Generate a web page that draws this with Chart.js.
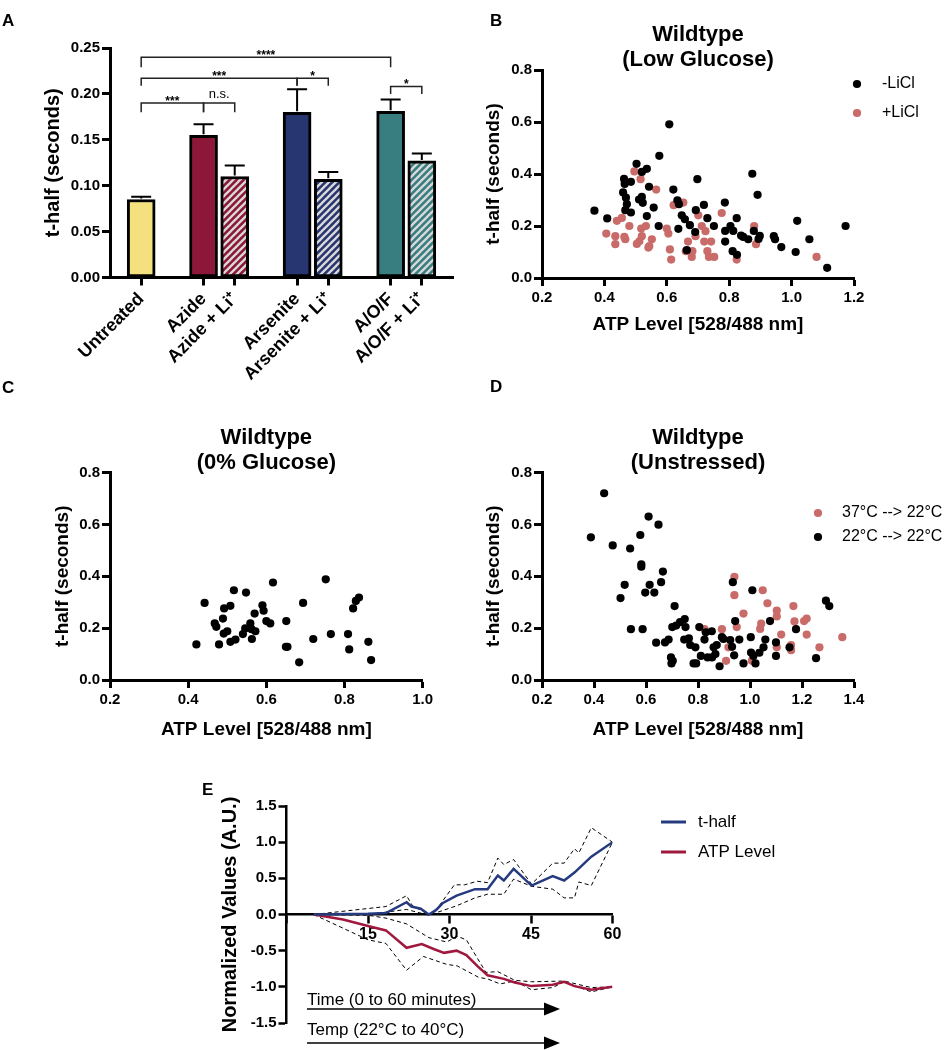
<!DOCTYPE html>
<html lang="en">
<head>
<meta charset="UTF-8">
<title>t-half and ATP level</title>
<script src="https://cdn.jsdelivr.net/npm/chart.js@4"></script>
<style>
body { margin: 0; background: #fff; font-family: Arial, "Liberation Sans", sans-serif; }
.fig { position: relative; width: 946px; height: 1050px; overflow: hidden; }
.fig canvas { position: absolute; }
.tag { position: absolute; font-weight: bold; font-size: 17px; line-height: 1; }
</style>
</head>
<body>
<div class="fig">
	<canvas id="chartA" width="470" height="400" style="left:0;top:0"></canvas>
	<canvas id="chartB" width="476" height="345" style="left:470px;top:0"></canvas>
	<canvas id="chartC" width="470" height="380" style="left:0;top:380px"></canvas>
	<canvas id="chartD" width="476" height="380" style="left:470px;top:380px"></canvas>
	<canvas id="chartE" width="746" height="280" style="left:200px;top:770px"></canvas>
	<div class="tag" style="left:2px;top:12px">A</div>
	<div class="tag" style="left:490px;top:12px">B</div>
	<div class="tag" style="left:2px;top:379px">C</div>
	<div class="tag" style="left:490px;top:378px">D</div>
	<div class="tag" style="left:202px;top:781px">E</div>
</div>
<script>
// --- panel A: t-half per treatment (mean + upper error) ---
const barLabels = ['Untreated', 'Azide', 'Azide + Li⁺', 'Arsenite', 'Arsenite + Li⁺', 'A/O/F', 'A/O/F + Li⁺'];
const barSlots = [0, 2, 3, 5, 6, 8, 9];
const barMeans = [0.085, 0.155, 0.110, 0.180, 0.107, 0.181, 0.127];
const barErrors = [0.003, 0.012, 0.012, 0.025, 0.008, 0.013, 0.008];
const sigBrackets = [
	{ from: 0, to: 8, y: 0.240, leg: 0.229, label: '****' },
	{ from: 0, to: 5, y: 0.217, leg: 0.209, label: '***' },
	{ from: 5, to: 6, y: 0.217, leg: 0.209, label: '*' },
	{ from: 0, to: 2, y: 0.190, leg: 0.180, label: '***' },
	{ from: 2, to: 3, y: 0.190, leg: 0.180, label: 'n.s.' },
	{ from: 8, to: 9, y: 0.208, leg: 0.200, label: '*' }
];

// --- panel B: wildtype, low glucose [ATP, t-half] ---
const bMinusLiCl = [[0.368,0.259],[0.409,0.229],[0.463,0.381],[0.465,0.362],[0.460,0.329],[0.469,0.309],[0.472,0.284],[0.467,0.261],[0.485,0.370],[0.485,0.252],[0.503,0.439],[0.520,0.408],[0.536,0.420],[0.511,0.302],[0.520,0.312],[0.523,0.289],[0.543,0.351],[0.536,0.238],[0.558,0.271],[0.574,0.200],[0.576,0.470],[0.608,0.591],[0.621,0.340],[0.634,0.299],[0.639,0.284],[0.637,0.189],[0.648,0.241],[0.658,0.226],[0.664,0.107],[0.674,0.203],[0.691,0.177],[0.693,0.261],[0.698,0.380],[0.719,0.281],[0.730,0.230],[0.751,0.200],[0.786,0.290],[0.787,0.140],[0.787,0.181],[0.804,0.200],[0.813,0.181],[0.811,0.103],[0.825,0.089],[0.824,0.230],[0.838,0.163],[0.845,0.158],[0.861,0.149],[0.874,0.401],[0.879,0.181],[0.891,0.320],[0.894,0.150],[0.898,0.162],[0.943,0.161],[0.947,0.149],[0.967,0.119],[1.013,0.100],[1.018,0.220],[1.057,0.149],[1.114,0.039],[1.173,0.200]];
const bPlusLiCl = [[0.406,0.171],[0.435,0.161],[0.435,0.130],[0.440,0.220],[0.456,0.231],[0.464,0.158],[0.467,0.149],[0.480,0.200],[0.496,0.410],[0.504,0.131],[0.512,0.141],[0.518,0.190],[0.520,0.161],[0.533,0.200],[0.516,0.380],[0.541,0.117],[0.544,0.123],[0.552,0.149],[0.566,0.340],[0.600,0.190],[0.605,0.171],[0.610,0.110],[0.614,0.071],[0.622,0.280],[0.653,0.290],[0.661,0.103],[0.668,0.140],[0.680,0.081],[0.682,0.103],[0.692,0.161],[0.701,0.241],[0.712,0.200],[0.720,0.140],[0.724,0.180],[0.730,0.103],[0.742,0.140],[0.735,0.081],[0.752,0.081],[0.776,0.250],[0.824,0.071],[0.880,0.200],[0.886,0.130],[1.080,0.081]];

// --- panel C: wildtype, 0% glucose ---
const cZeroGlucose = [[0.421,0.137],[0.442,0.297],[0.468,0.218],[0.472,0.205],[0.479,0.137],[0.489,0.237],[0.492,0.276],[0.491,0.179],[0.500,0.188],[0.508,0.286],[0.508,0.147],[0.517,0.346],[0.521,0.156],[0.540,0.177],[0.546,0.199],[0.548,0.337],[0.559,0.218],[0.563,0.158],[0.562,0.196],[0.572,0.188],[0.570,0.256],[0.590,0.288],[0.593,0.267],[0.600,0.227],[0.610,0.218],[0.617,0.376],[0.650,0.128],[0.654,0.128],[0.651,0.227],[0.684,0.068],[0.694,0.297],[0.720,0.158],[0.752,0.388],[0.765,0.177],[0.809,0.177],[0.812,0.118],[0.822,0.276],[0.829,0.305],[0.837,0.318],[0.861,0.147],[0.868,0.077]];

// --- panel D: wildtype, unstressed ---
const dRoomTemp = [[0.388,0.550],[0.439,0.720],[0.472,0.519],[0.502,0.316],[0.518,0.367],[0.539,0.507],[0.542,0.196],[0.578,0.559],[0.582,0.446],[0.582,0.437],[0.587,0.196],[0.597,0.337],[0.610,0.630],[0.614,0.367],[0.632,0.337],[0.639,0.144],[0.648,0.599],[0.658,0.377],[0.665,0.418],[0.673,0.145],[0.687,0.156],[0.696,0.087],[0.698,0.064],[0.703,0.074],[0.710,0.285],[0.701,0.204],[0.716,0.210],[0.731,0.223],[0.749,0.235],[0.752,0.204],[0.747,0.156],[0.765,0.161],[0.770,0.135],[0.783,0.064],[0.793,0.064],[0.790,0.126],[0.805,0.204],[0.811,0.093],[0.825,0.156],[0.830,0.184],[0.837,0.087],[0.854,0.087],[0.853,0.188],[0.860,0.126],[0.867,0.100],[0.872,0.135],[0.883,0.053],[0.892,0.165],[0.898,0.158],[0.924,0.154],[0.931,0.128],[0.934,0.377],[0.939,0.095],[0.943,0.227],[0.959,0.156],[0.975,0.064],[1.003,0.165],[1.004,0.106],[1.009,0.346],[1.013,0.093],[1.021,0.064],[1.036,0.105],[1.052,0.126],[1.059,0.156],[1.077,0.227],[1.100,0.145],[1.100,0.093],[1.152,0.126],[1.177,0.196],[1.254,0.084],[1.292,0.306],[1.305,0.285]];
const dHeatShock = [[0.825,0.196],[0.892,0.196],[0.908,0.074],[0.917,0.126],[0.940,0.398],[0.940,0.327],[0.949,0.204],[0.975,0.256],[1.007,0.074],[1.039,0.197],[1.043,0.217],[1.049,0.346],[1.067,0.296],[1.103,0.268],[1.103,0.245],[1.120,0.175],[1.103,0.126],[1.158,0.135],[1.158,0.115],[1.167,0.285],[1.171,0.226],[1.208,0.227],[1.218,0.237],[1.218,0.175],[1.267,0.126],[1.355,0.165]];

// --- panel E: normalised values over time [minutes, value] ---
const eThalf = [[5,0],[15,0.01],[18.3,0.02],[22.1,0.17],[23,0.11],[24.7,0.08],[26.2,0],[27.5,0.06],[28.8,0.16],[31.3,0.26],[34.7,0.35],[37,0.35],[38.9,0.54],[40,0.47],[41.8,0.63],[45.1,0.40],[49,0.53],[51.1,0.47],[53,0.58],[56.1,0.80],[60,1.0]];
const eThalfHi = [[5,0],[18.3,0.11],[22.1,0.26],[23.2,0.12],[26.2,0],[27.8,0.09],[30.9,0.41],[32.8,0.41],[35.1,0.46],[37,0.44],[38.9,0.78],[40,0.69],[41.8,0.76],[45.1,0.42],[49,0.71],[51.1,0.71],[53,0.91],[53.8,0.85],[56.1,1.20],[60,1.0]];
const eThalfLo = [[5,0],[15,0],[22.1,0.07],[26.2,-0.01],[31.3,0.12],[34.7,0.23],[37,0.28],[40,0.28],[41.8,0.49],[45.1,0.39],[49,0.35],[51.1,0.23],[53,0.23],[53.8,0.45],[56.1,0.40],[60,1.0]];
const eAtp = [[5,0],[10.4,-0.07],[15,-0.16],[18.3,-0.22],[22.1,-0.46],[24.9,-0.41],[27.2,-0.48],[29,-0.53],[31.3,-0.50],[33.1,-0.56],[35.1,-0.71],[37,-0.84],[40,-0.89],[42,-0.94],[45.1,-0.99],[49,-0.97],[51.1,-0.93],[53,-0.99],[56.1,-1.04],[60,-1.0]];
const eAtpHi = [[5,0],[15,-0.01],[18.3,-0.05],[22.1,-0.13],[26.2,-0.32],[29.5,-0.38],[31.4,-0.30],[33.1,-0.35],[36.7,-0.80],[38.9,-0.79],[42,-0.91],[45.1,-0.93],[51.1,-0.92],[56.1,-1.01],[60,-1.0]];
const eAtpLo = [[5,0],[15,-0.35],[18.3,-0.40],[22.1,-0.77],[25.2,-0.58],[29.5,-0.69],[31.4,-0.71],[35.4,-0.87],[37,-0.89],[39.3,-0.96],[42,-0.92],[45.1,-1.04],[49,-1.01],[51.1,-0.93],[56.1,-1.07],[60,-1.0]];

const FONT = 'Arial, "Liberation Sans", Helvetica, sans-serif';
const YELLOW = '#f4e07e', CRIMSON = '#8c1738', NAVY = '#273671', TEAL = '#387d80';
const PINK = '#c96b69', LINE_BLUE = '#263a7f', LINE_RED = '#a1183f';

Chart.defaults.font.family = FONT;
Chart.defaults.color = '#000';
Chart.defaults.animation = false;
Chart.defaults.plugins.legend.display = false;
Chart.defaults.plugins.tooltip.enabled = false;

const GRID = { drawOnChartArea: false, tickLength: 8, tickWidth: 3, tickColor: '#000' };
const BORDER = { color: '#000', width: 3 };
const toPoints = a => a.map(([x, y]) => ({ x, y }));

function hatch(color) {
	const c = document.createElement('canvas');
	c.width = 7; c.height = 7;
	const g = c.getContext('2d');
	g.fillStyle = color; g.fillRect(0, 0, 7, 7);
	g.strokeStyle = '#d9d9d9'; g.lineWidth = 2.3;
	g.beginPath();
	g.moveTo(-1, 8); g.lineTo(8, -1);
	g.moveTo(-1, 1); g.lineTo(1, -1);
	g.moveTo(6, 8); g.lineTo(8, 6);
	g.stroke();
	return g.createPattern(c, 'repeat');
}

// error bars + significance brackets for panel A
const sigPlugin = {
	id: 'sig',
	afterDatasetsDraw(chart) {
		const { ctx, scales: { x, y } } = chart;
		ctx.save();
		ctx.strokeStyle = '#000';
		ctx.lineWidth = 2;
		barSlots.forEach((s, i) => {
			const px = x.getPixelForValue(s);
			const top = y.getPixelForValue(barMeans[i]) - 1;
			const end = y.getPixelForValue(barMeans[i] + barErrors[i]);
			ctx.beginPath();
			ctx.moveTo(px, top); ctx.lineTo(px, end);
			ctx.moveTo(px - 10, end); ctx.lineTo(px + 10, end);
			ctx.stroke();
		});
		ctx.lineWidth = 1.5;
		ctx.strokeStyle = '#222';
		ctx.fillStyle = '#000';
		ctx.textAlign = 'center';
		ctx.textBaseline = 'alphabetic';
		sigBrackets.forEach(b => {
			const x1 = x.getPixelForValue(b.from), x2 = x.getPixelForValue(b.to);
			const yl = y.getPixelForValue(b.y), yb = y.getPixelForValue(b.leg);
			ctx.beginPath();
			ctx.moveTo(x1, yb); ctx.lineTo(x1, yl); ctx.lineTo(x2, yl); ctx.lineTo(x2, yb);
			ctx.stroke();
			if (b.label === 'n.s.') {
				ctx.font = '13px ' + FONT;
				ctx.fillText(b.label, (x1 + x2) / 2, yl - 5);
			} else {
				ctx.font = 'bold 12px ' + FONT;
				ctx.fillText(b.label, (x1 + x2) / 2, yl + 1.5);
			}
		});
		ctx.restore();
	}
};

// two-line heading above a scatter panel
const headingPlugin = {
	id: 'heading',
	afterDraw(chart, args, opts) {
		if (!opts || !opts.lines) return;
		const { ctx, chartArea } = chart;
		ctx.save();
		ctx.font = 'bold 22px ' + FONT;
		ctx.fillStyle = '#000';
		ctx.textAlign = 'center';
		ctx.textBaseline = 'middle';
		const cx = (chartArea.left + chartArea.right) / 2;
		opts.lines.forEach((t, i) => ctx.fillText(t, cx, chartArea.top - 35 + i * 25));
		ctx.restore();
	}
};

// dot legend built from the datasets
const dotLegendPlugin = {
	id: 'dotLegend',
	afterDraw(chart, args, opts) {
		if (!opts || !opts.order) return;
		const { ctx } = chart;
		ctx.save();
		ctx.font = '16px ' + FONT;
		ctx.textBaseline = 'middle';
		opts.order.forEach((di, i) => {
			const ds = chart.data.datasets[di];
			const y = opts.y + i * opts.step;
			ctx.fillStyle = ds.pointBackgroundColor;
			ctx.beginPath(); ctx.arc(opts.x, y, 4.1, 0, Math.PI * 2); ctx.fill();
			ctx.fillStyle = '#000';
			ctx.fillText(ds.label, opts.x + opts.gap, y);
		});
		ctx.restore();
	}
};

new Chart(document.getElementById('chartA'), {
	type: 'bar',
	data: {
		datasets: [{
			data: barSlots.map((s, i) => ({ x: s, y: barMeans[i] })),
			backgroundColor: [YELLOW, CRIMSON, hatch(CRIMSON), NAVY, hatch(NAVY), TEAL, hatch(TEAL)],
			borderColor: '#000',
			borderWidth: 3,
			borderSkipped: false,
			barThickness: 28
		}]
	},
	options: {
		responsive: false,
		layout: { padding: { top: 48, right: 17, bottom: 0, left: 0 } },
		scales: {
			x: {
				type: 'linear', min: -1, max: 10, offset: false,
				afterBuildTicks: s => { s.ticks = barSlots.map(v => ({ value: v })); },
				ticks: { autoSkip: false, minRotation: 45, maxRotation: 45, padding: 3, font: { size: 18, weight: 'bold' }, callback: v => barLabels[barSlots.indexOf(v)] },
				grid: { ...GRID, offset: false },
				border: BORDER,
				afterFit: s => { s.height = 122.5; s.paddingLeft = 0; s.paddingRight = 0; }
			},
			y: {
				min: 0, max: 0.25,
				ticks: { stepSize: 0.05, padding: 2, font: { size: 15, weight: 'bold' }, callback: v => v.toFixed(2) },
				grid: GRID,
				border: BORDER,
				title: { display: true, text: 't-half (seconds)', font: { size: 20, weight: 'bold' }, padding: { top: 41, bottom: 0 } },
				afterFit: s => { s.width = 110; s.paddingTop = 0; s.paddingBottom = 0; }
			}
		}
	},
	plugins: [sigPlugin]
});

function dots(label, arr, color) {
	return { label, data: toPoints(arr), backgroundColor: color, pointBackgroundColor: color, pointBorderWidth: 0, pointRadius: 4.1 };
}

function scatterChart(id, datasets, cfg) {
	return new Chart(document.getElementById(id), {
		type: 'scatter',
		data: { datasets },
		options: {
			responsive: false,
			layout: { padding: { top: cfg.top, right: cfg.right, bottom: 0, left: 0 } },
			scales: {
				x: {
					type: 'linear', min: 0.2, max: cfg.xMax,
					ticks: { stepSize: 0.2, padding: 3, font: { size: 15, weight: 'bold' }, callback: v => v.toFixed(1) },
					grid: GRID, border: BORDER,
					title: { display: true, text: 'ATP Level [528/488 nm]', font: { size: 19, weight: 'bold' }, padding: { top: 0, bottom: cfg.xTitlePad } },
					afterFit: s => { s.height = cfg.xHeight; s.paddingLeft = 0; s.paddingRight = 0; }
				},
				y: {
					min: 0, max: 0.8,
					ticks: { stepSize: 0.2, padding: 2, font: { size: 15, weight: 'bold' }, callback: v => v.toFixed(1) },
					grid: GRID, border: BORDER,
					title: { display: true, text: 't-half (seconds)', font: { size: 19, weight: 'bold' }, padding: { top: cfg.yTitlePad, bottom: 0 } },
					afterFit: s => { s.width = cfg.yWidth; s.paddingTop = 0; s.paddingBottom = 0; }
				}
			},
			plugins: { heading: { lines: cfg.heading }, dotLegend: cfg.legend || {} }
		},
		plugins: [headingPlugin, dotLegendPlugin]
	});
}

scatterChart('chartB', [dots('-LiCl', bMinusLiCl, '#000'), dots('+LiCl', bPlusLiCl, PINK)], {
	top: 70, right: 92, xMax: 1.2, xHeight: 67, xTitlePad: 8.6, yWidth: 72, yTitlePad: 12.6,
	heading: ['Wildtype', '(Low Glucose)'],
	legend: { order: [0, 1], x: 387, y: 84, step: 29, gap: 25 }
});

scatterChart('chartC', [dots('WT', cZeroGlucose, '#000')], {
	top: 92.5, right: 47.3, xMax: 1.0, xHeight: 80, xTitlePad: 18.6, yWidth: 110, yTitlePad: 51.6,
	heading: ['Wildtype', '(0% Glucose)']
});

scatterChart('chartD', [dots('22°C --> 22°C', dRoomTemp, '#000'), dots('37°C --> 22°C', dHeatShock, PINK)], {
	top: 92.5, right: 92, xMax: 1.4, xHeight: 80, xTitlePad: 18.6, yWidth: 72, yTitlePad: 12.6,
	heading: ['Wildtype', '(Unstressed)'],
	legend: { order: [1, 0], x: 348, y: 133, step: 24, gap: 24 }
});

// panel E legend and the time / temperature arrows
const eNotesPlugin = {
	id: 'eNotes',
	afterDraw(chart) {
		const { ctx, chartArea } = chart;
		ctx.save();
		ctx.font = '17px ' + FONT;
		ctx.textBaseline = 'middle';
		[0, 1].forEach(i => {
			const ds = chart.data.datasets[i];
			const y = 52 + i * 30;
			ctx.strokeStyle = ds.borderColor; ctx.lineWidth = 3;
			ctx.beginPath(); ctx.moveTo(461, y); ctx.lineTo(486, y); ctx.stroke();
			ctx.fillStyle = '#000';
			ctx.fillText(ds.label, 498, y);
		});
		const x0 = chartArea.left + 20.5, tip = chartArea.left + 273.5;
		[['Time (0 to 60 minutes)', 230, 239], ['Temp (22°C to 40°C)', 260, 273]].forEach(([t, ty, ly]) => {
			ctx.fillStyle = '#000';
			ctx.fillText(t, x0, ty);
			ctx.strokeStyle = '#000'; ctx.lineWidth = 1.5;
			ctx.beginPath(); ctx.moveTo(x0, ly); ctx.lineTo(tip - 14, ly); ctx.stroke();
			ctx.beginPath(); ctx.moveTo(tip, ly); ctx.lineTo(tip - 16, ly - 6.5); ctx.lineTo(tip - 16, ly + 6.5); ctx.closePath(); ctx.fill();
		});
		ctx.restore();
	}
};

function meanLine(label, arr, color) {
	return { label, data: toPoints(arr), borderColor: color, borderWidth: 2.5, pointRadius: 0, tension: 0 };
}
function bandLine(arr) {
	return { label: '', data: toPoints(arr), borderColor: '#000', borderWidth: 1, borderDash: [4, 3], pointRadius: 0, tension: 0 };
}

new Chart(document.getElementById('chartE'), {
	type: 'line',
	data: {
		datasets: [
			meanLine('t-half', eThalf, LINE_BLUE),
			meanLine('ATP Level', eAtp, LINE_RED),
			bandLine(eThalfHi), bandLine(eThalfLo), bandLine(eAtpHi), bandLine(eAtpLo)
		]
	},
	options: {
		responsive: false,
		layout: { padding: { top: 36, right: 333.5, bottom: 27, left: 0 } },
		scales: {
			x: {
				type: 'linear', min: 0, max: 60, position: { y: 0 },
				ticks: { stepSize: 15, padding: 2, font: { size: 16, weight: 'bold' }, callback: v => v === 0 ? '' : v },
				grid: { ...GRID, tickWidth: 2.5 },
				border: { color: '#000', width: 2.5 }
			},
			y: {
				min: -1.5, max: 1.5,
				ticks: { stepSize: 0.5, padding: 2, font: { size: 15, weight: 'bold' }, callback: v => v.toFixed(1) },
				grid: { ...GRID, tickWidth: 2.5 },
				border: { color: '#000', width: 2.5 },
				title: { display: true, text: 'Normalized Values (A.U.)', font: { size: 20, weight: 'bold' }, padding: { top: 18, bottom: 0 } },
				afterFit: s => { s.width = 86.5; s.paddingTop = 0; s.paddingBottom = 0; }
			}
		}
	},
	plugins: [eNotesPlugin]
});
</script>
</body>
</html>
